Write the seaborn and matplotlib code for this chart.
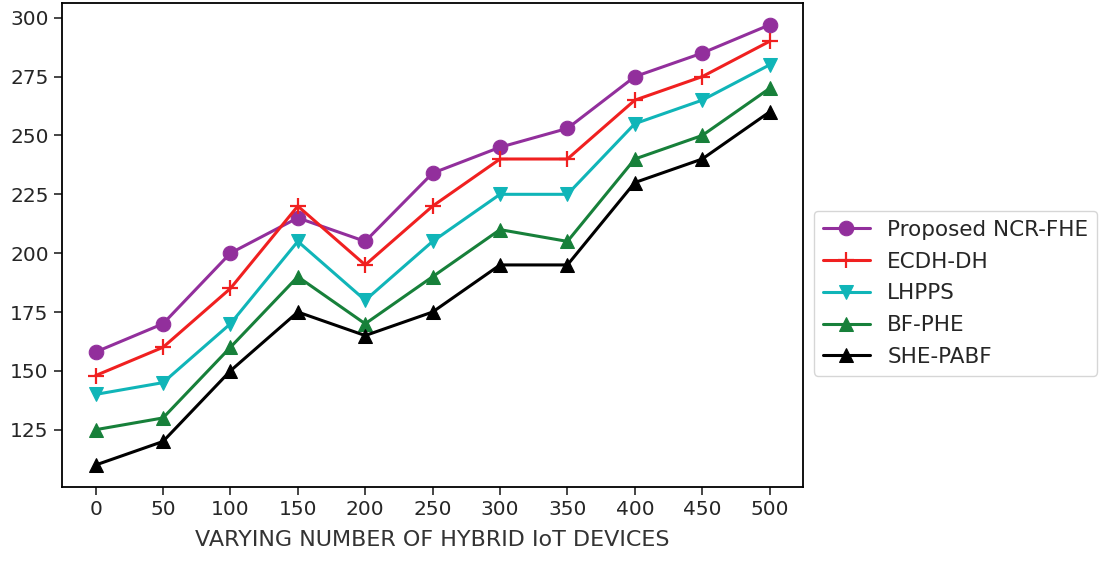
import matplotlib
matplotlib.use("Agg")
import matplotlib.pyplot as plt
import pandas as pd
import seaborn as sns

devices = [0, 50, 100, 150, 200, 250, 300, 350, 400, 450, 500]
proposed = [158, 170, 200, 215, 205, 234, 245, 253, 275, 285, 297]
ecdh = [148, 160, 185, 220, 195, 220, 240, 240, 265, 275, 290]
lhpps = [140, 145, 170, 205, 180, 205, 225, 225, 255, 265, 280]
bfphe = [125, 130, 160, 190, 170, 190, 210, 205, 240, 250, 270]
shepabf = [110, 120, 150, 175, 165, 175, 195, 195, 230, 240, 260]

names = ["Proposed NCR-FHE", "ECDH-DH", "LHPPS", "BF-PHE", "SHE-PABF"]
series = [proposed, ecdh, lhpps, bfphe, shepabf]
colors = ["#922f9c", "#f02020", "#10b5b8", "#17803a", "#000000"]
markers = ["o", "+", "v", "^", "^"]

rows = []
for name, vals in zip(names, series):
    for d, v in zip(devices, vals):
        rows.append({"devices": d, "value": v, "method": name})
df = pd.DataFrame(rows)

sns.set_style("ticks")
plt.rcParams["font.family"] = ["DejaVu Sans"]

fig = plt.figure(figsize=(11.05, 5.65), dpi=100)
ax = fig.add_axes([0.056, 0.138, 0.671, 0.857])

for name, vals, c, m in zip(names, series, colors, markers):
    sub = df[df["method"] == name]
    if m == "+":
        sns.lineplot(data=sub, x="devices", y="value", ax=ax, color=c, marker="+",
                     markersize=12, markeredgewidth=1.6, markeredgecolor=c,
                     linewidth=2.2, label=name)
    else:
        sns.lineplot(data=sub, x="devices", y="value", ax=ax, color=c, marker=m,
                     markersize=10.5, markeredgecolor=c, linewidth=2.2, label=name)

ax.set_xticks(devices)
ax.set_yticks([125, 150, 175, 200, 225, 250, 275, 300])
ax.tick_params(labelsize=14.5, length=6, width=1.2)
ax.set_xlabel("VARYING NUMBER OF HYBRID IoT DEVICES", fontsize=16, color="#333333",
              labelpad=8)
ax.set_ylabel("")
for s in ax.spines.values():
    s.set_linewidth(1.3)
    s.set_color("black")

ax.legend(loc="center left", bbox_to_anchor=(1.0, 0.40), fontsize=15.5,
          frameon=True, handlelength=2.2, labelspacing=0.55)

fig.savefig("out.png", dpi=100)
